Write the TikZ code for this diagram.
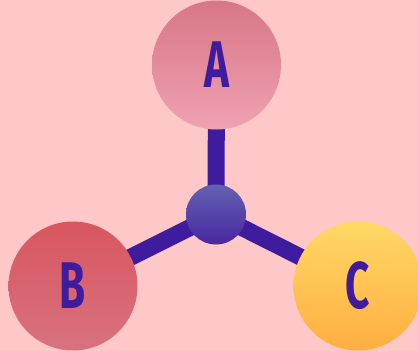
\documentclass[tikz,border=0pt]{standalone}
\usepackage{fontspec}
\setmainfont{Fira Sans}
\usetikzlibrary{backgrounds}
\definecolor{bg}{HTML}{FFC8C8}
\definecolor{ink}{HTML}{3F1C9E}
\definecolor{atop}{HTML}{D87686}
\definecolor{abot}{HTML}{EFA2B2}
\definecolor{btop}{HTML}{D8565F}
\definecolor{bbot}{HTML}{D8727F}
\definecolor{ctop}{HTML}{FFD866}
\definecolor{cbot}{HTML}{FFAE40}
\definecolor{mtop}{HTML}{6262B2}
\definecolor{mbot}{HTML}{4A26A0}
\tikzset{
  ball/.style={circle, inner sep=0pt, minimum size=129pt, text=ink,
    font=\fontsize{66}{66}\selectfont\bfseries},
  hub/.style={circle, inner sep=0pt, minimum size=60pt, top color=mtop, bottom color=mbot, draw=none},
  spoke/.style={draw=ink, line width=17pt}
}
\newcommand{\narrow}[1]{\scalebox{0.64}[1]{#1}}
\begin{document}
\begin{tikzpicture}[x=1pt,y=-1pt]
\useasboundingbox (0,0) rectangle (418,351);
\node[ball, top color=atop, bottom color=abot] (a) at (216.5,65) {\narrow{A}};
\node[ball, top color=btop, bottom color=bbot] (b) at (73,286) {\narrow{B}};
\node[ball, top color=ctop, bottom color=cbot] (c) at (358,286) {\narrow{C}};
\node[hub] (m) at (216,214.5) {};
\begin{pgfonlayer}{background}
\fill[bg] (0,0) rectangle (418,351);
\draw[spoke] (m.center) -- (a.center);
\draw[spoke] (m.center) -- (b.center);
\draw[spoke] (m.center) -- (c.center);
\end{pgfonlayer}
\end{tikzpicture}
\end{document}
